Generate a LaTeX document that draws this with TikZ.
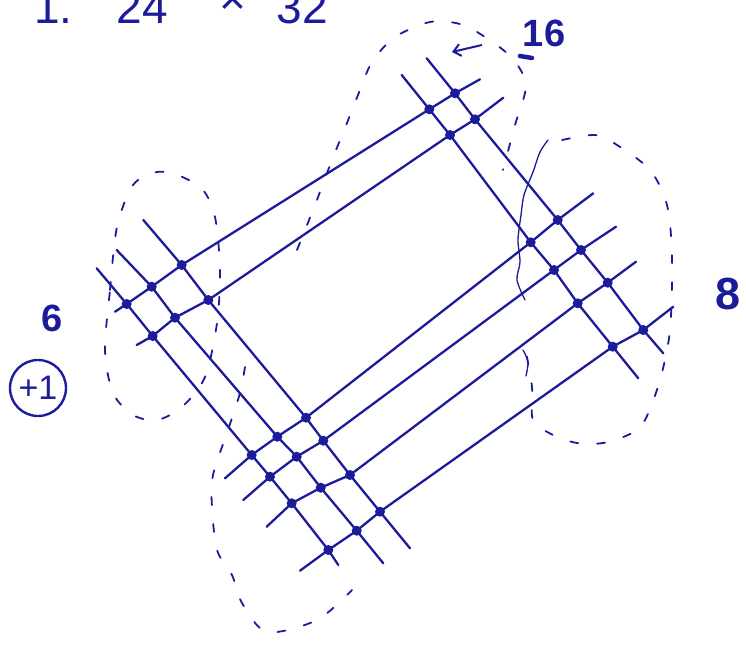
\documentclass[tikz,border=0pt]{standalone}
\usepackage{fontspec}
\setmainfont{Liberation Sans}
\usetikzlibrary{arrows.meta}

\definecolor{ink}{RGB}{28,28,155}

\begin{document}
\begin{tikzpicture}[
    x=1pt, y=-1pt,
    pen/.style={ink, line width=2.3pt, line cap=round, line join=round},
    loop/.style={ink, line width=1.8pt, line cap=round, dash pattern=on 8pt off 19pt},
    wavy/.style={ink, line width=1.3pt, line cap=round},
    digit/.style={ink, inner sep=0pt, font=\bfseries\fontsize{38}{40}\selectfont}
]
\useasboundingbox (0,0) rectangle (746,652);
\clip (0,0) rectangle (746,652);

% Title (cut by the top edge)
\node[ink, anchor=base west, inner sep=0pt, font=\fontsize{46}{50}\selectfont] (title) at (34,24)
    {1.\hspace{44pt}24\hspace{52pt}\raisebox{9pt}{×}\hspace{30pt}32};

% ============ LINE ENDS ============
\coordinate (L1s) at (96.7,268.3);  \coordinate (L1e) at (338.3,565);
\coordinate (L2s) at (116.7,250);   \coordinate (L2e) at (383.3,563.3);
\coordinate (L3s) at (143.3,220);   \coordinate (L3e) at (410,548.3);
\coordinate (R1s) at (401.7,75);    \coordinate (R1e) at (638.3,378.3);
\coordinate (R2s) at (426.7,58.3);  \coordinate (R2e) at (663.3,353.3);
\coordinate (U1s) at (115,311.7);   \coordinate (U1e) at (480,79.3);
\coordinate (U2s) at (136.7,345);   \coordinate (U2e) at (503.3,97.7);
\coordinate (D1s) at (225,478.3);   \coordinate (D1e) at (593.3,193.3);
\coordinate (D2s) at (243.3,500);   \coordinate (D2e) at (616,226.7);
\coordinate (D3s) at (266.7,526.7); \coordinate (D3e) at (636,261.7);
\coordinate (D4s) at (300,570.7);   \coordinate (D4e) at (673.3,306.7);

% ============ CROSSINGS ============
% upper left: 3 x 2
\coordinate (L1U1) at (126.7,304);   \coordinate (L1U2) at (152.7,336);
\coordinate (L2U1) at (151.7,286.7); \coordinate (L2U2) at (175,317.7);
\coordinate (L3U1) at (181.7,265);   \coordinate (L3U2) at (208.3,300);
% top: 2 x 2
\coordinate (R1U1) at (429.3,109.3); \coordinate (R1U2) at (450,135);
\coordinate (R2U1) at (455,93.3);    \coordinate (R2U2) at (475,119.3);
% lower left: 3 x 4
\coordinate (L1D1) at (251.7,455);   \coordinate (L1D2) at (270,476.7);
\coordinate (L1D3) at (291.7,503.3); \coordinate (L1D4) at (328.3,550);
\coordinate (L2D1) at (277.3,436.7); \coordinate (L2D2) at (296.7,456.7);
\coordinate (L2D3) at (320.7,487.7); \coordinate (L2D4) at (356.7,530.7);
\coordinate (L3D1) at (306,417.7);   \coordinate (L3D2) at (323.3,440.7);
\coordinate (L3D3) at (350,475);     \coordinate (L3D4) at (380,511.7);
% right: 2 x 4
\coordinate (R1D1) at (530.7,242.3); \coordinate (R1D2) at (554,270);
\coordinate (R1D3) at (577.7,303.3); \coordinate (R1D4) at (612.7,346.7);
\coordinate (R2D1) at (557.7,220);   \coordinate (R2D2) at (581,250);
\coordinate (R2D3) at (607.7,282.7); \coordinate (R2D4) at (643.3,330);

% ============ LINES ============
\foreach \a in {L1,L2,L3,R1,R2}
    \draw[pen] (\a s) -- (\a U1) -- (\a U2) -- (\a D1) -- (\a D2) -- (\a D3) -- (\a D4) -- (\a e);
\foreach \b in {U1,U2,D1,D2,D3,D4}
    \draw[pen] (\b s) -- (L1\b) -- (L2\b) -- (L3\b) -- (R1\b) -- (R2\b) -- (\b e);

% Dots
\foreach \a in {L1,L2,L3,R1,R2}
    \foreach \b in {U1,U2,D1,D2,D3,D4}
        \fill[ink] (\a\b) circle (5pt);

% ============ DASHED LOOPS ============
\draw[loop] plot[smooth cycle] coordinates {(105,350) (110,290) (117,227) (133,185) (157,172)
    (180,176) (203,190) (215,217) (220,270) (217,323) (205,377) (182,407) (157,420)
    (133,415) (113,393)};
\draw[loop] plot[smooth] coordinates {(297,250) (315,205) (332,160) (345,128) (358,95)
    (372,62) (395,37) (430,22) (460,24) (485,37) (512,58) (526,85) (515,125) (503,170)};
\draw[loop] plot[smooth] coordinates {(562,140) (595,135) (617,145) (650,170) (667,205)
    (672,257) (670,330) (660,380) (645,420) (630,434) (603,443) (577,443) (553,435)
    (533,420) (532,387) (526,352)};
\draw[wavy] plot[smooth] coordinates {(548,140) (540,152) (533,172) (524,195) (521,215)
    (518,240) (520,262) (517,280) (525,300)};
\draw[wavy] plot[smooth] coordinates {(523,350) (528,362) (526,376)};
\draw[loop] plot[smooth] coordinates {(245,367) (240,393) (228,430) (213,475) (212,507)
    (217,550) (232,575) (242,603) (267,632) (317,620) (352,590)};

% ============ COUNTS ============
\node[digit] (six) at (52,318) {6};
\node[draw, circle, ink, line width=2.4pt, minimum size=56pt, inner sep=0pt,
    font=\fontsize{34}{36}\selectfont] (plusone) at (38,388) {+1};
\node[digit, font=\bfseries\fontsize{45}{48}\selectfont] (eight) at (728,294) {8};
\node[digit] (sixteen) at (544,33) {16};
\coordinate (tail) at (482,45);
\coordinate (tip) at (452,52);
\draw[ink, line width=2pt, -{Straight Barb[length=7pt, width=12pt]}] (tail) -- (tip);
\draw[ink, line width=4.5pt, line cap=round] (520,56) -- (532,58);

\end{tikzpicture}
\end{document}
